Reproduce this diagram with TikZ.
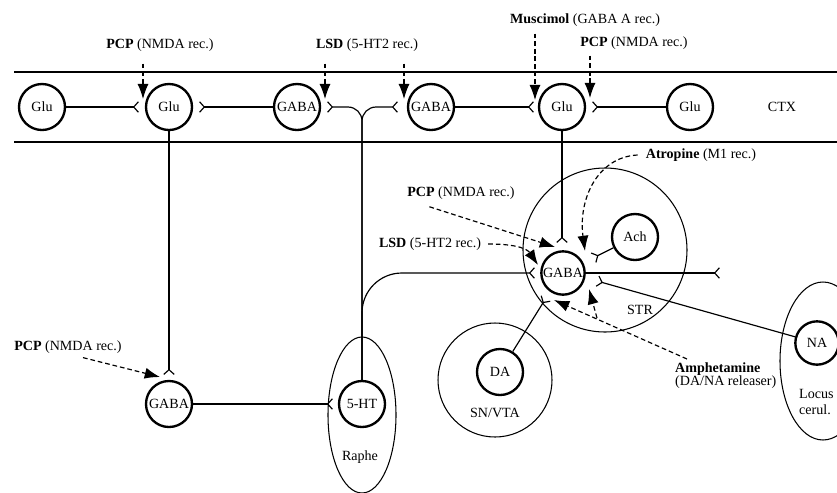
\documentclass[tikz,border=0pt]{standalone}
\usepackage{fontspec}
\setmainfont{Liberation Serif}
\usetikzlibrary{arrows.meta}

\begin{document}
\begin{tikzpicture}[x=0.03cm, y=-0.03cm,
  cell/.style={draw, circle, line width=2pt, minimum size=1.38cm, inner sep=0pt,
    font=\fontsize{12}{13}\selectfont},
  lbl/.style={inner sep=0pt, font=\fontsize{12}{13}\selectfont},
  region/.style={line width=0.9pt},
  syn/.style={line width=1pt, -{Straight Barb[reversed, length=4pt, width=9pt]}},
  drug/.style={line width=1pt, dash pattern=on 4pt off 2.5pt,
    -{Latex[length=13pt, width=9.5pt]}}]
  \useasboundingbox (0,0) rectangle (837,492);
  % cortex band
  \draw[line width=1.1pt] (14,72) -- (837,72);
  \draw[line width=1.1pt] (14,142) -- (837,142);
  % regions
  \draw[region] (605,250) circle (82);
  \draw[region] (495,380) circle (57);
  \draw[region] (362,415) ellipse (34 and 78);
  \draw[region] (823,361) ellipse (43 and 79);
  \node[lbl] (ctx) at (782,107) {CTX};
  \node[lbl] (str) at (640,310) {STR};
  \node[lbl] (snvta) at (495,413) {SN/VTA};
  \node[lbl] (raphe) at (360,457) {Raphe};
  \node[lbl, align=left, anchor=west] (locus) at (799,402) {Locus\\cerul.};
  % neurons
  \node[cell] (glu1) at (42,107) {Glu};
  \node[cell] (glu2) at (169,107) {Glu};
  \node[cell] (gaba1) at (297,107) {GABA};
  \node[cell] (gaba2) at (431,107) {GABA};
  \node[cell] (glu3) at (562,107) {Glu};
  \node[cell] (glu4) at (690,107) {Glu};
  \node[cell] (gaba3) at (169,404) {GABA};
  \node[cell] (ht) at (362,404) {5-HT};
  \node[cell, minimum size=1.3cm] (gaba4) at (563,273) {GABA};
  \node[cell] (ach) at (635,237) {Ach};
  \node[cell] (da) at (500,372) {DA};
  \node[cell, minimum size=1.3cm] (na) at (817,343) {NA};
  % synapses in cortex
  \draw[syn] (glu1) -- (139,107);
  \draw[syn] (gaba1) -- (199,107);
  \draw[syn] (gaba2) -- (534,107);
  \draw[syn] (glu4) -- (592,107);
  % raphe projections
  \draw[syn, rounded corners=12pt] (ht) |- (327,107);
  \draw[syn, rounded corners=12pt] (ht) |- (398,107);
  \draw[syn, rounded corners=34pt] (ht) |- (535,273);
  % descending and striatal synapses
  \draw[syn] (glu2) -- (169,375);
  \draw[syn] (gaba3) -- (333,404);
  \draw[syn] (glu3) -- (562,243);
  \draw[syn] (ach) -- (593,258);
  \draw[syn] (gaba4) -- (720,273);
  \draw[syn] (na) -- (597,281);
  \draw[syn] (da) -- (546,298);
  % drug labels
  \node[lbl] (pcpa) at (160,45) {\textbf{PCP} (NMDA rec.)};
  \node[lbl] (lsda) at (367,45) {\textbf{LSD} (5-HT2 rec.)};
  \node[lbl] (musc) at (585,20) {\textbf{Muscimol} (GABA A rec.)};
  \node[lbl] (pcpb) at (634,43) {\textbf{PCP} (NMDA rec.)};
  \node[lbl] (atro) at (701,155) {\textbf{Atropine} (M1 rec.)};
  \node[lbl] (pcpc) at (461,193) {\textbf{PCP} (NMDA rec.)};
  \node[lbl] (lsdb) at (430,244) {\textbf{LSD} (5-HT2 rec.)};
  \node[lbl] (pcpd) at (68,347) {\textbf{PCP} (NMDA rec.)};
  \node[lbl, align=left, anchor=north west, font=\fontsize{12}{11}\selectfont]
    (amph) at (675,363) {\textbf{Amphetamine}\\(DA/NA releaser)};
  % drug targets
  \coordinate (ta) at (143,99);
  \coordinate (tb) at (325,99);
  \coordinate (tc) at (404,99);
  \coordinate (td) at (535,100);
  \coordinate (te) at (590,98);
  \coordinate (tf) at (585,251);
  \coordinate (tg) at (555,247);
  \coordinate (th) at (538,265);
  \coordinate (ti) at (160,377);
  \coordinate (tj) at (554,300);
  \coordinate (tk) at (589,289);
  \coordinate (amb) at (597,318);
  % drug arrows
  \draw[drug] (pcpa.south -| ta) ++(0,12) -- (ta);
  \draw[drug] (lsda.south -| tb) ++(0,12) -- (tb);
  \draw[drug] (lsda.south -| tc) ++(0,12) -- (tc);
  \draw[drug] (musc.south -| td) ++(0,7) -- (td);
  \draw[drug] (pcpb.south -| te) ++(0,6) -- (te);
  \draw[drug] (atro.west) ++(-8,0) .. controls (597,157) and (578,200) .. (tf);
  \draw[drug, shorten <=20pt] (pcpc.south west) -- (tg);
  \draw[drug] (lsdb.east) ++(7,0) .. controls (520,244) and (528,250) .. (th);
  \draw[drug] (pcpd.south) ++(15,4) -- (ti);
  \draw[drug] (amph.north west) ++(12,-4) -- (tj);
  \draw[drug] (amb) -- (tk);
\end{tikzpicture}
\end{document}
